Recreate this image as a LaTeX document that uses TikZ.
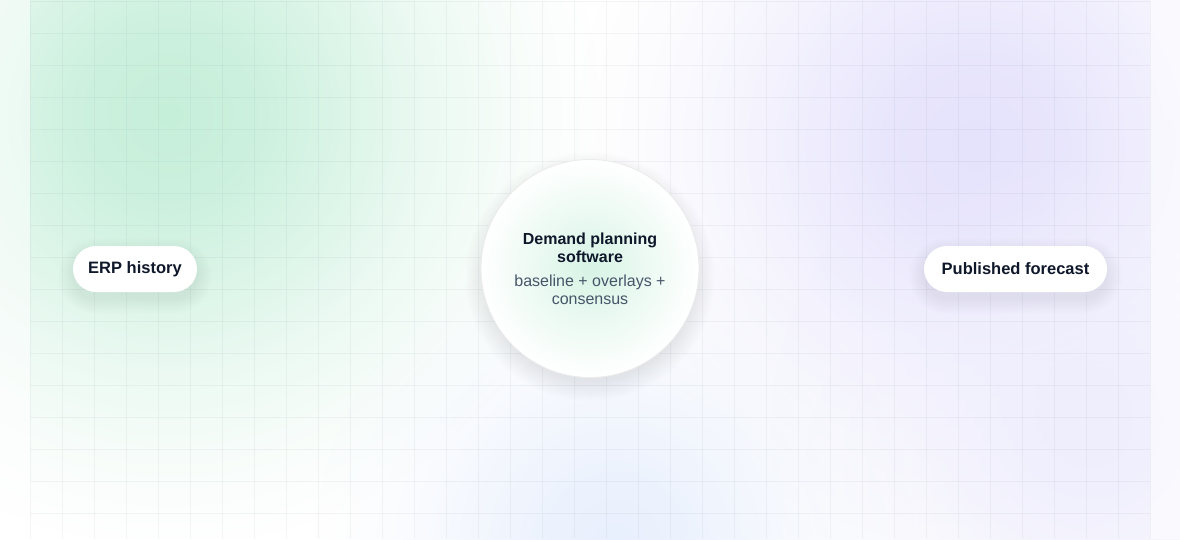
\documentclass[tikz,border=0pt]{standalone}
\usepackage{fontspec}
\setmainfont{Liberation Sans}
\usetikzlibrary{fadings}

\definecolor{inkdark}{HTML}{0F172A}
\definecolor{inkslate}{HTML}{475569}
\definecolor{glowgreen}{HTML}{C6EFDA}
\definecolor{glowviolet}{HTML}{E5E2FC}
\definecolor{glowblue}{HTML}{E9F0FD}
\definecolor{gridline}{HTML}{64748B}
\definecolor{shadowtint}{HTML}{475569}

% bell shaped fade, opaque in the middle
\pgfdeclareradialshading{glowprofile}{\pgfpointorigin}{%
    color(0bp)=(white); color(5bp)=(white!88!black);
    color(10bp)=(white!62!black); color(15bp)=(white!34!black);
    color(20bp)=(white!13!black); color(25bp)=(black); color(50bp)=(black)}
\pgfdeclarefading{softglow}{\pgfuseshading{glowprofile}}

\pgfdeclarelayer{back}
\pgfdeclarelayer{shade}
\pgfsetlayers{back,shade,main}

\tikzset{
    glow/.style={fill=#1, path fading=softglow},
    pill/.style={fill=white, rounded corners=23pt, minimum height=46pt,
        font=\fontsize{16.5}{18}\selectfont\bfseries, text=inkdark},
    hub/.style={circle, minimum size=218pt, draw=black!8, line width=0.8pt,
        inner color=glowgreen!70, outer color=white},
}

% soft drop shadow behind a pill node
\newcommand\pillshadow[1]{%
    \foreach \k in {0,...,15}
        \fill[shadowtint, opacity=0.0045, rounded corners={(23+\k)*1pt}]
            ([xshift=-\k pt, yshift={-\k*1pt-7pt}]#1.south west) rectangle
            ([xshift=\k pt, yshift={\k*1pt-7pt}]#1.north east);
}

\begin{document}
\begin{tikzpicture}[x=1pt, y=-1pt]

    \begin{pgfonlayer}{back}
    % page
    \fill[white] (0,0) rectangle (1180,539);
    \useasboundingbox (0,0) rectangle (1180,539);

    % soft colour washes
    \begin{scope}
        \clip (0,0) rectangle (1180,539);
        \fill[glow=glowgreen] (170,115) circle (430);
        \fill[glow=glowviolet] (975,145) circle (400);
        \fill[glow=glowviolet!60] (1090,430) circle (320);
        \fill[glow=glowblue] (615,545) circle (300);
    \end{scope}

    % lighter margins outside the panel
    \fill[white, opacity=0.55] (0,0) rectangle (30,539);
    \fill[white, opacity=0.55] (1150,0) rectangle (1180,539);

    % grid
    \foreach \gx in {0,...,35}
        \draw[gridline, opacity=0.07, line width=1pt] (30+32*\gx,1) -- (30+32*\gx,539);
    \foreach \gy in {0,...,16}
        \draw[gridline, opacity=0.07, line width=1pt] (30,1+32*\gy) -- (1150,1+32*\gy);
    \end{pgfonlayer}

    % nodes
    \node[pill, minimum width=124pt] (erp) at (135,269) {ERP history};
    \node[hub] (dps) at (590,268.5) {};
    \node[align=center, text=inkdark, font=\fontsize{16}{18}\selectfont\bfseries]
        (dpstitle) at (590,248) {Demand planning\\software};
    \node[align=center, text=inkslate, font=\fontsize{16}{18}\selectfont]
        (dpssub) at (590,290) {baseline + overlays +\\consensus};
    \node[pill, minimum width=183pt] (pub) at (1015.5,269) {Published forecast};

    % shadows
    \begin{pgfonlayer}{shade}
    \pillshadow{erp}
    \pillshadow{pub}
    \foreach \k in {0,...,20}
        \fill[shadowtint, opacity=0.0035] ([yshift=-8pt]dps.center) circle ({105+\k});
    \end{pgfonlayer}

\end{tikzpicture}
\end{document}
